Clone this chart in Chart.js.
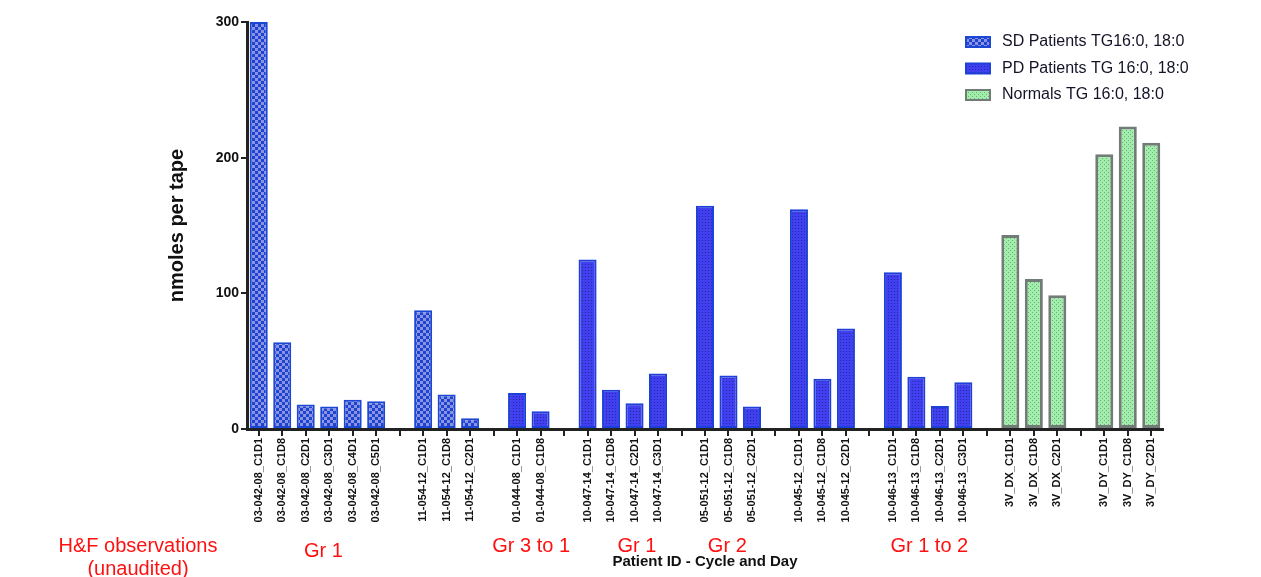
<!DOCTYPE html>
<html>
<head>
<meta charset="utf-8">
<script src="https://cdn.jsdelivr.net/npm/chart.js@4"></script>
<style>
  body { margin: 0; background: #fff; }
  #wrap { width: 1261px; height: 577px; position: relative; }
</style>
</head>
<body>
<div id="wrap"><canvas id="myChart"></canvas></div>
<script>
// category labels - empty strings are the gaps between patients (they still get a tick)
let categories = [
  '03-042-08_C1D1', '03-042-08_C1D8', '03-042-08_C2D1', '03-042-08_C3D1', '03-042-08_C4D1', '03-042-08_C5D1', '',
  '11-054-12_C1D1', '11-054-12_C1D8', '11-054-12_C2D1', '',
  '01-044-08_C1D1', '01-044-08_C1D8', '',
  '10-047-14_C1D1', '10-047-14_C1D8', '10-047-14_C2D1', '10-047-14_C3D1', '',
  '05-051-12_C1D1', '05-051-12_C1D8', '05-051-12_C2D1', '',
  '10-045-12_C1D1', '10-045-12_C1D8', '10-045-12_C2D1', '',
  '10-046-13_C1D1', '10-046-13_C1D8', '10-046-13_C2D1', '10-046-13_C3D1', '',
  '3V_DX_C1D1', '3V_DX_C1D8', '3V_DX_C2D1', '',
  '3V_DY_C1D1', '3V_DY_C1D8', '3V_DY_C2D1'
];

// series values (null = bar belongs to another series)
let sdPatients = [
  300, 64, 18, 16.5, 21.5, 20.5, null,
  87.5, 25.5, 8, null,
  null, null, null,
  null, null, null, null, null,
  null, null, null, null,
  null, null, null, null,
  null, null, null, null, null,
  null, null, null, null,
  null, null, null
];
let pdPatients = [
  null, null, null, null, null, null, null,
  null, null, null, null,
  26.5, 13, null,
  125, 29, 19, 41, null,
  164.5, 39.5, 16.5, null,
  162, 37, 74, null,
  115.5, 38.5, 17, 34.5, null,
  null, null, null, null,
  null, null, null
];
let normals = [
  null, null, null, null, null, null, null,
  null, null, null, null,
  null, null, null,
  null, null, null, null, null,
  null, null, null, null,
  null, null, null, null,
  null, null, null, null, null,
  143, 110.5, 98.5, null,
  202.5, 223, 211
];

let seriesNames = ['SD Patients TG16:0, 18:0', 'PD Patients TG 16:0, 18:0', 'Normals TG 16:0, 18:0'];
let yTicks = [0, 100, 200, 300];

// red H&F notes under the axis: text, category index (can be fractional) and y
let notes = [
  { text: 'Gr 1', at: 2.75, y: 551 },
  { text: 'Gr 3 to 1', at: 11.6, y: 546 },
  { text: 'Gr 1', at: 16.1, y: 546 },
  { text: 'Gr 2', at: 19.95, y: 546 },
  { text: 'Gr 1 to 2', at: 28.55, y: 546 }
];

// small helper to make the hatch fills
function makePattern(size, draw) {
  let c = document.createElement('canvas');
  c.width = size;
  c.height = size;
  let g = c.getContext('2d');
  draw(g);
  return g.createPattern(c, 'repeat');
}

// checkered blue for SD
let sdFill = makePattern(6, function(g) {
  g.fillStyle = '#8c94e2';
  g.fillRect(0, 0, 6, 6);
  g.fillStyle = '#1d44d0';
  g.fillRect(0, 0, 3, 3);
  g.fillRect(3, 3, 3, 3);
});
// dotted blue for PD
let pdFill = makePattern(3, function(g) {
  g.fillStyle = '#4040f0';
  g.fillRect(0, 0, 3, 3);
  g.fillStyle = '#2626a0';
  g.fillRect(0, 0, 1, 1);
});
// dotted green for normals
let nFill = makePattern(4, function(g) {
  g.fillStyle = '#9cf0a8';
  g.fillRect(0, 0, 4, 4);
  g.fillStyle = '#8a9c8e';
  g.fillRect(0, 0, 1, 1);
  g.fillRect(2, 2, 1, 1);
});

let fills = [sdFill, pdFill, nFill];
let borders = ['#1c46d4', '#1c40d8', '#727c76'];

// legend + red notes drawn by hand
let extras = {
  id: 'extras',
  afterDraw: function(chart) {
    let ctx = chart.ctx;
    ctx.save();
    // legend top right
    for (let i = 0; i < seriesNames.length; i++) {
      let y = 42 + i * 26.5;
      ctx.fillStyle = fills[i];
      ctx.fillRect(966, y - 5, 24, 10);
      ctx.strokeStyle = borders[i];
      ctx.lineWidth = 2;
      ctx.strokeRect(966, y - 5, 24, 10);
      ctx.fillStyle = '#141428';
      ctx.font = '16px "Liberation Sans", Arial, sans-serif';
      ctx.textBaseline = 'middle';
      ctx.textAlign = 'left';
      ctx.fillText(seriesNames[i], 1002, y);
    }
    // red observation notes
    ctx.fillStyle = '#ff1010';
    ctx.font = '20px "Liberation Sans", Arial, sans-serif';
    ctx.textAlign = 'center';
    ctx.fillText('H&F observations', 138, 546);
    ctx.fillText('(unaudited)', 138, 569);
    let xs = chart.scales.x;
    for (let i = 0; i < notes.length; i++) {
      ctx.fillText(notes[i].text, xs.getPixelForValue(notes[i].at), notes[i].y);
    }
    ctx.restore();
  }
};

let datasets = [];
let seriesData = [sdPatients, pdPatients, normals];
for (let i = 0; i < 3; i++) {
  datasets.push({
    label: seriesNames[i],
    data: seriesData[i],
    backgroundColor: fills[i],
    borderColor: borders[i],
    borderWidth: i === 2 ? 3 : 2,
    borderSkipped: false,
    grouped: false,
    categoryPercentage: 0.8,
    barPercentage: 0.96
  });
}

let ctx = document.getElementById('myChart').getContext('2d');
let chart = new Chart(ctx, {
  type: 'bar',
  data: { labels: categories, datasets: datasets },
  options: {
    responsive: true,
    maintainAspectRatio: false,
    animation: false,
    layout: { padding: { left: 155, right: 98, top: 22, bottom: 0 } },
    plugins: {
      legend: { display: false },
      tooltip: { enabled: false }
    },
    scales: {
      x: {
        grid: {
          offset: false,
          drawOnChartArea: false,
          drawTicks: true,
          tickLength: 7,
          color: '#222',
          lineWidth: 2
        },
        border: { display: true, color: '#222', width: 3 },
        ticks: {
          autoSkip: false,
          minRotation: 90,
          maxRotation: 90,
          padding: 2,
          color: '#111',
          font: { family: '"Liberation Sans", Arial, sans-serif', size: 11, weight: 'bold' }
        },
        title: {
          display: true,
          text: 'Patient ID - Cycle and Day',
          color: '#111',
          padding: { top: 0, bottom: 6 },
          font: { family: '"Liberation Sans", Arial, sans-serif', size: 15, weight: 'bold' }
        },
        afterFit: function(scale) { scale.height = 148; }
      },
      y: {
        min: 0,
        max: 300,
        afterBuildTicks: function(scale) {
          scale.ticks = yTicks.map(function(v) { return { value: v }; });
        },
        grid: {
          drawOnChartArea: false,
          drawTicks: true,
          tickLength: 6,
          color: '#222',
          lineWidth: 2
        },
        border: { display: true, color: '#222', width: 3 },
        ticks: {
          padding: 2,
          color: '#111',
          font: { family: '"Liberation Sans", Arial, sans-serif', size: 14, weight: 'bold' }
        },
        title: {
          display: true,
          text: 'nmoles per tape',
          color: '#111',
          padding: { top: 10, bottom: 0 },
          font: { family: '"Liberation Sans", Arial, sans-serif', size: 20, weight: 'bold' }
        },
        afterFit: function(scale) { scale.width = 92; }
      }
    }
  },
  plugins: [extras]
});
</script>
</body>
</html>
